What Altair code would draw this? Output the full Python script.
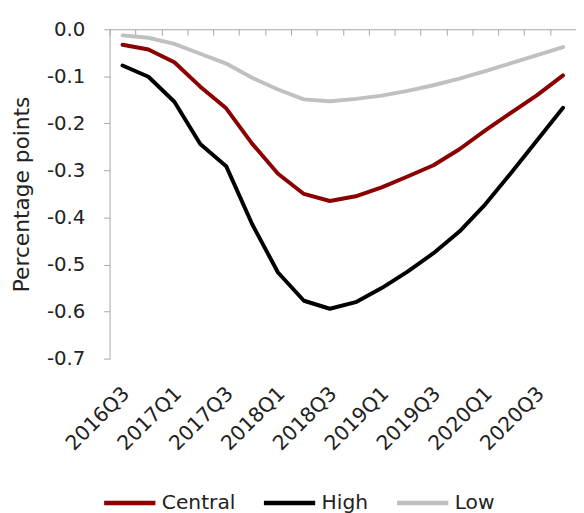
import altair as alt
import pandas as pd

quarters = ["2016Q3", "2016Q4", "2017Q1", "2017Q2", "2017Q3", "2017Q4",
            "2018Q1", "2018Q2", "2018Q3", "2018Q4", "2019Q1", "2019Q2",
            "2019Q3", "2019Q4", "2020Q1", "2020Q2", "2020Q3", "2020Q4"]
central = [-0.033, -0.043, -0.070, -0.122, -0.168, -0.243, -0.307, -0.350, -0.365,
           -0.355, -0.336, -0.313, -0.289, -0.255, -0.215, -0.177, -0.140, -0.098]
high = [-0.077, -0.101, -0.154, -0.244, -0.291, -0.414, -0.517, -0.577, -0.594,
        -0.580, -0.550, -0.515, -0.476, -0.430, -0.372, -0.305, -0.236, -0.167]
low = [-0.013, -0.018, -0.031, -0.052, -0.073, -0.103, -0.128, -0.149, -0.153,
       -0.148, -0.141, -0.131, -0.119, -0.105, -0.089, -0.072, -0.055, -0.038]
series_names = ["Central", "High", "Low"]
series_colors = ["#8B0000", "#000000", "#C0C0C0"]
y_ticks = [-0.7, -0.6, -0.5, -0.4, -0.3, -0.2, -0.1, 0.0]

rows = []
for name, vals in zip(series_names, [central, high, low]):
    for i, (q, v) in enumerate(zip(quarters, vals)):
        rows.append({"idx": i, "quarter": q, "series": name, "value": v})
df = pd.DataFrame(rows)

W, H = 473, 334
n = len(quarters)
FONT = "DejaVu Sans"
TXT = "#222222"
AXC = "#A6A6A6"
label_arr = "[" + ",".join("'%s'" % q for q in quarters) + "]"
xdom = [-0.5, n - 0.5]

y_enc = alt.Y(
    "value:Q",
    scale=alt.Scale(domain=[-0.7, 0], nice=False, zero=False),
    axis=alt.Axis(
        values=y_ticks,
        labelExpr="(datum.value < 0 ? '-' : '') + format(abs(datum.value), '.1f')",
        title="Percentage points", grid=False,
        domainColor=AXC, tickColor=AXC, tickSize=6, labelPadding=19,
        labelFont=FONT, labelFontSize=20, labelColor=TXT,
        titleFont=FONT, titleFontSize=22, titleFontWeight="normal", titleColor=TXT,
        titleX=-89, titleY=167, titleAngle=270, titleAlign="center",
        titleBaseline="middle",
    ),
)

lines = alt.Chart(df).mark_line(strokeWidth=4, strokeCap="round", strokeJoin="round").encode(
    x=alt.X(
        "idx:Q",
        scale=alt.Scale(domain=xdom, nice=False, zero=False),
        axis=alt.Axis(
            orient="bottom", offset=-H,
            values=[i - 0.5 for i in range(n + 1)],
            labels=False, title=None, grid=False,
            domainColor=AXC, tickColor=AXC, tickSize=6,
        ),
    ),
    y=y_enc,
    color=alt.Color(
        "series:N",
        scale=alt.Scale(domain=series_names, range=series_colors),
        legend=alt.Legend(
            orient="none", legendX=-8, legendY=452, direction="horizontal",
            title=None, symbolType="stroke", symbolStrokeWidth=4.5, symbolSize=2704,
            labelFont=FONT, labelFontSize=20.5, labelColor=TXT,
            columnPadding=19, labelOffset=4, padding=0,
        ),
    ),
)

label_layer = alt.Chart(df).mark_point(opacity=0).encode(
    x=alt.X(
        "idx:Q",
        scale=alt.Scale(domain=xdom, nice=False, zero=False),
        axis=alt.Axis(
            orient="bottom", values=list(range(0, n, 2)),
            labelExpr=label_arr + "[datum.value]",
            labelAngle=315, labelAlign="right", labelBaseline="middle",
            labelPadding=32, labelOffset=3.5,
            domain=False, ticks=False, grid=False, title=None,
            labelFont=FONT, labelFontSize=20.5, labelColor=TXT,
            labelOverlap=False, labelBound=False,
        ),
    ),
)

chart = alt.layer(lines, label_layer).resolve_scale(x="independent").resolve_axis(
    x="independent"
).properties(
    width=W, height=H,
    autosize=alt.AutoSizeParams(type="none"),
    padding={"left": 103, "top": 18, "right": 0, "bottom": 153},
).configure_view(stroke=None)

chart.save("out.html", embed_options={"renderer": "svg", "actions": False})
